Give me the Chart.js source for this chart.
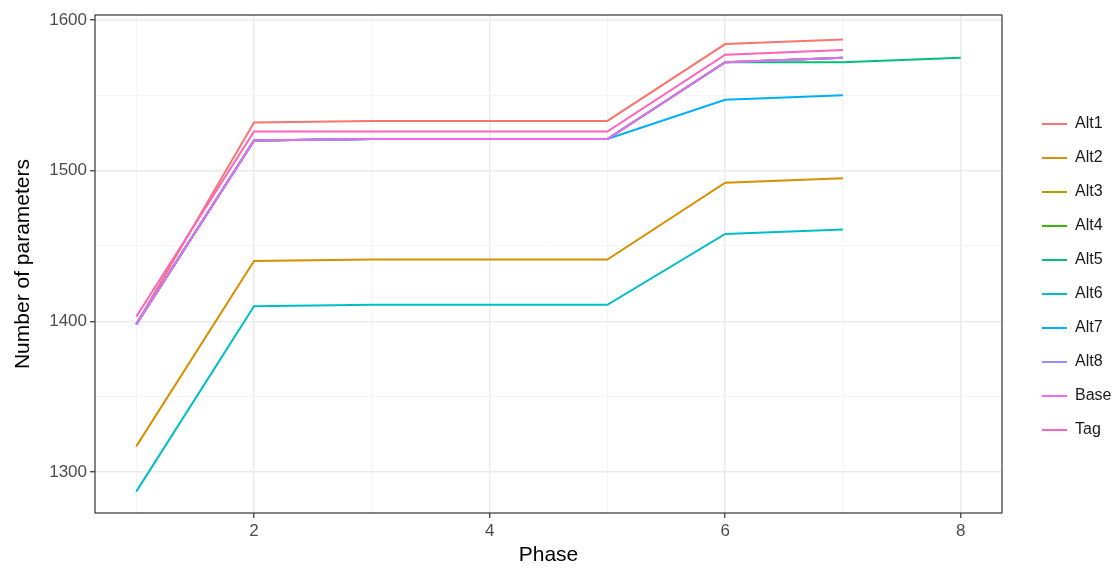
<!DOCTYPE html>
<html>
<head>
<meta charset="utf-8">
<script src="https://cdn.jsdelivr.net/npm/chart.js@4.4.1/dist/chart.umd.min.js"></script>
<style>
  html, body { margin: 0; padding: 0; background: #ffffff; }
  #wrap { position: relative; width: 1118px; height: 570px; }
</style>
</head>
<body>
<div id="wrap"><canvas id="c"></canvas></div>
<script>
// ---- data ----
const phases = [1, 2, 3, 4, 5, 6, 7, 8];
const seriesNames = ['Alt1', 'Alt2', 'Alt3', 'Alt4', 'Alt5', 'Alt6', 'Alt7', 'Alt8', 'Base', 'Tag'];
const alt1 = [1398, 1532, 1533, 1533, 1533, 1584, 1587, null];
const alt2 = [1317, 1440, 1441, 1441, 1441, 1492, 1495, null];
const alt3 = [1398, 1520, 1521, 1521, 1521, 1572, 1575, null];
const alt4 = [1398, 1520, 1521, 1521, 1521, 1572, 1575, null];
const alt5 = [1398, 1520, 1521, 1521, 1521, 1572, 1572, 1575];
const alt6 = [1287, 1410, 1411, 1411, 1411, 1458, 1461, null];
const alt7 = [1398, 1520, 1521, 1521, 1521, 1547, 1550, null];
const alt8 = [1398, 1520, 1521, 1521, 1521, 1572, 1575, null];
const base = [1398, 1520, 1521, 1521, 1521, 1572, 1575, null];
const tag  = [1403, 1526, 1526, 1526, 1526, 1577, 1580, null];
const seriesValues = [alt1, alt2, alt3, alt4, alt5, alt6, alt7, alt8, base, tag];
const xTicks = [1, 2, 3, 4, 5, 6, 7, 8];
const xLabelTicks = [2, 4, 6, 8];
const yTicks = [1300, 1350, 1400, 1450, 1500, 1550, 1600];
const yLabelTicks = [1300, 1400, 1500, 1600];

// ---- styles ----
const colors = ['#F8766D', '#D89000', '#A3A500', '#39B600', '#00BF7D', '#00BFC4', '#00B0F6', '#9590FF', '#E76BF3', '#FF62BC'];

Chart.defaults.font.family = "'Liberation Sans', Arial, sans-serif";
Chart.defaults.animation = false;

const datasets = seriesNames.map((name, i) => ({
  label: name,
  data: phases.map((p, j) => ({ x: p, y: seriesValues[i][j] })),
  borderColor: colors[i],
  backgroundColor: colors[i],
  borderWidth: 2,
  pointRadius: 0,
  pointHoverRadius: 0,
  tension: 0,
  spanGaps: false,
  fill: false,
  order: -i,
  xAxisID: 'x',
  yAxisID: 'y'
}));

const panelBorder = {
  id: 'panelBorder',
  afterDatasetsDraw(chart) {
    const { ctx, chartArea: a } = chart;
    ctx.save();
    ctx.strokeStyle = '#333333';
    ctx.lineWidth = 1.2;
    ctx.strokeRect(a.left, a.top, a.right - a.left, a.bottom - a.top);
    ctx.restore();
  }
};

new Chart(document.getElementById('c'), {
  type: 'line',
  data: { datasets },
  plugins: [panelBorder],
  options: {
    responsive: true,
    maintainAspectRatio: false,
    devicePixelRatio: 1,
    layout: { padding: { top: 15, left: 0, right: 0, bottom: 0 } },
    plugins: {
      tooltip: { enabled: false },
      legend: {
        position: 'right',
        align: 'start',
        maxWidth: 94,
        title: { display: true, text: '', font: { size: 10, lineHeight: 1 }, padding: { top: 0, bottom: 73 } },
        labels: {
          usePointStyle: true,
          pointStyleWidth: 25,
          boxWidth: 25,
          padding: 18,
          color: '#1A1A1A',
          font: { size: 16 },
          generateLabels: (chart) => chart.data.datasets.map((ds, i) => ({
            text: ds.label,
            fillStyle: ds.borderColor,
            strokeStyle: ds.borderColor,
            lineWidth: 2,
            pointStyle: 'line',
            hidden: false,
            datasetIndex: i,
            fontColor: '#1A1A1A'
          }))
        }
      }
    },
    scales: {
      x: {
        type: 'linear',
        position: 'bottom',
        min: 0.65,
        max: 8.35,
        afterBuildTicks: (axis) => { axis.ticks = xTicks.map(v => ({ value: v })); },
        afterFit: (axis) => { axis.height = 57; },
        ticks: {
          autoSkip: false,
          maxRotation: 0,
          padding: 3,
          color: '#4D4D4D',
          font: { size: 17 },
          callback: (v) => xLabelTicks.includes(v) ? String(v) : ''
        },
        grid: {
          color: (c) => xLabelTicks.includes(c.tick.value) ? '#EBEBEB' : '#F4F4F4',
          lineWidth: (c) => xLabelTicks.includes(c.tick.value) ? 1.5 : 1,
          tickColor: (c) => xLabelTicks.includes(c.tick.value) ? '#333333' : 'rgba(0,0,0,0)',
          tickLength: 5,
          tickWidth: 1.2
        },
        border: { display: false },
        title: {
          display: true,
          text: 'Phase',
          color: '#000000',
          font: { size: 21 },
          padding: { top: 0, bottom: 2.4 }
        }
      },
      y: {
        type: 'linear',
        position: 'left',
        min: 1272.8,
        max: 1603.3,
        afterBuildTicks: (axis) => { axis.ticks = yTicks.map(v => ({ value: v })); },
        afterFit: (axis) => { axis.width = 95; },
        ticks: {
          autoSkip: false,
          padding: 3,
          color: '#4D4D4D',
          font: { size: 17 },
          callback: (v) => yLabelTicks.includes(v) ? String(v) : ''
        },
        grid: {
          color: (c) => yLabelTicks.includes(c.tick.value) ? '#EBEBEB' : '#F4F4F4',
          lineWidth: (c) => yLabelTicks.includes(c.tick.value) ? 1.5 : 1,
          tickColor: (c) => yLabelTicks.includes(c.tick.value) ? '#333333' : 'rgba(0,0,0,0)',
          tickLength: 5,
          tickWidth: 1.2
        },
        border: { display: false },
        title: {
          display: true,
          text: 'Number of parameters',
          color: '#000000',
          font: { size: 21 },
          padding: { top: 10.4, bottom: 0 }
        }
      },
      pad: {
        type: 'linear',
        position: 'right',
        display: true,
        grid: { display: false, drawTicks: false },
        ticks: { display: false },
        border: { display: false },
        afterFit: (axis) => { axis.width = 22; }
      }
    }
  }
});
</script>
</body>
</html>
